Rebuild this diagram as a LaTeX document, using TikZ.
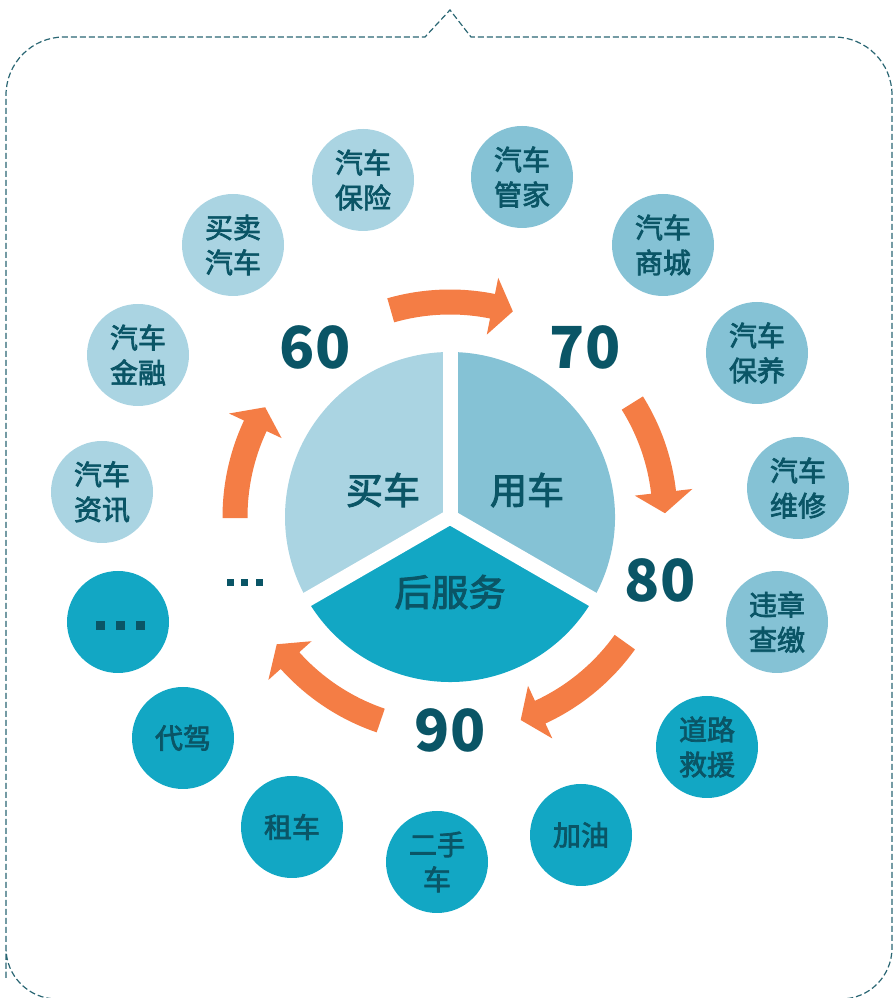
\documentclass[tikz,border=0pt]{standalone}
\usepackage{fontspec}
\newfontfamily\cjk{Noto Sans CJK SC}
\newfontfamily\cjkfb[FakeBold=2.5]{Noto Sans CJK SC}
\definecolor{clight}{HTML}{AAD4E2}
\definecolor{cmid}{HTML}{85C2D5}
\definecolor{cdark}{HTML}{12A7C4}
\definecolor{ctxt}{HTML}{0A5566}
\definecolor{corange}{HTML}{F47D45}
\definecolor{cborder}{HTML}{2A6673}
\newcommand\orarrow[2]{%
  \pgfmathsetmacro\hb{#2+(#1>#2?5.6:-5.6)}%
  \fill[corange] (#1:202.5) arc[start angle=#1,end angle=\hb,radius=202.5]
    -- (\hb:186) -- (#2:215) -- (\hb:244) -- (\hb:227.5)
    arc[start angle=\hb,end angle=#1,radius=227.5] -- cycle;}
\begin{document}
\begin{tikzpicture}[x=1pt,y=1pt,
  bub/.style={circle,minimum size=102pt,inner sep=0pt,text=ctxt,align=center,
    font=\cjkfb\fontsize{28}{35}\selectfont},
  pielab/.style={text=ctxt,font=\cjkfb\fontsize{37}{40}\selectfont},
  numlab/.style={text=ctxt,font=\cjk\bfseries\fontsize{58}{58}\selectfont},
  sq/.style={fill=ctxt}]
\useasboundingbox (0,0) rectangle (894,998);
% border
\draw[cborder,line width=1.2pt,dash pattern=on 6pt off 3pt]
  (6,20) -- (6,903) arc[start angle=180,end angle=90,radius=58]
  -- (425,961) -- (450,988) -- (471,961) -- (834,961)
  arc[start angle=90,end angle=0,radius=58] -- (892,50)
  arc[start angle=0,end angle=-90,radius=51] -- (57,-1)
  arc[start angle=270,end angle=180,radius=51] -- cycle;
\begin{scope}[shift={(450,481)}]
  \coordinate (C) at (0,0);
  \fill[clight] (C) -- (90:165) arc[start angle=90,end angle=210,radius=165] -- cycle;
  \fill[cmid] (C) -- (-30:165) arc[start angle=-30,end angle=90,radius=165] -- cycle;
  \fill[cdark] (C) -- (210:165) arc[start angle=210,end angle=330,radius=165] -- cycle;
  \foreach \a in {90,210,330} \draw[white,line width=15pt,line cap=round] (C) -- (\a:175);
  \orarrow{106}{73}
  \orarrow{32}{1}
  \orarrow{-35.6}{-70.8}
  \orarrow{-108.8}{-143.7}
  \orarrow{180.3}{149.3}
\end{scope}
\node[pielab] (buy) at (383,508) {买车};
\node[pielab] (use) at (527,508) {用车};
\node[pielab] (after) at (450,406) {后服务};
\node[numlab] (n60) at (315,651) {60};
\node[numlab] (n70) at (585,651) {70};
\node[numlab] (n80) at (660,418) {80};
\node[numlab] (n90) at (450,268) {90};
\foreach \x in {230,244.5,259.5} \fill[sq] (\x-3.5,412) rectangle (\x+3.5,419);
% bubbles
\node[bub,fill=clight] (ins) at (363,818) {汽车\\保险};
\node[bub,fill=cmid] (gj) at (522,821) {汽车\\管家};
\node[bub,fill=cmid] (sc) at (663,753) {汽车\\商城};
\node[bub,fill=cmid] (by) at (757,645) {汽车\\保养};
\node[bub,fill=cmid] (wx) at (798,510) {汽车\\维修};
\node[bub,fill=cmid] (wz) at (777,376) {违章\\查缴};
\node[bub,fill=cdark] (dl) at (707,251) {道路\\救援};
\node[bub,fill=cdark] (jy) at (581,163) {加油};
\node[bub,fill=cdark] (es) at (437,136) {二手\\车};
\node[bub,fill=cdark] (zc) at (292,171) {租车};
\node[bub,fill=cdark] (dj) at (183,260) {代驾};
\node[bub,fill=cdark] (more) at (118,376) {};
\foreach \x in {100.5,120.5,140.5} \fill[sq] (\x-4.5,368) rectangle (\x+4.5,377);
\node[bub,fill=clight] (zx) at (102,506) {汽车\\资讯};
\node[bub,fill=clight] (jr) at (138,643) {汽车\\金融};
\node[bub,fill=clight] (mm) at (233,753) {买卖\\汽车};
\end{tikzpicture}
\end{document}
